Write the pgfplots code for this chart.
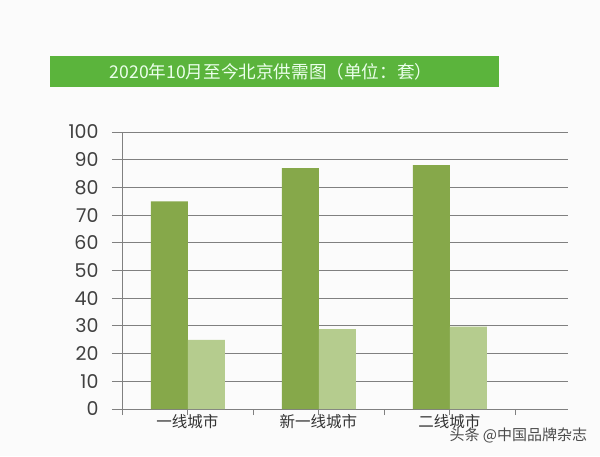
\documentclass[border=0pt]{standalone}
\usepackage{pgfplots}
\pgfplotsset{compat=1.18}
\usepackage{fontspec}
\setmainfont{Poppins}
\newfontfamily\cjk{Noto Sans CJK SC}
\definecolor{bardark}{HTML}{86A84A}
\definecolor{barlight}{HTML}{B5CC8E}
\definecolor{titlegreen}{HTML}{5BB43C}
\definecolor{gridgray}{HTML}{808080}
\begin{document}
\begin{tikzpicture}[x=1pt,y=1pt]
\fill[white!97!gray] (0,0) rectangle (600,456);
\useasboundingbox (0,0) rectangle (600,456);
\fill[titlegreen] (50,369) rectangle (499,400);
\node[text=white!92!green, font=\cjk\fontsize{17.6}{20}\selectfont] at (271,384.5) {2020年10月至今北京供需图（单位：套）};
\begin{axis}[
  at={(122pt,47pt)}, anchor=origin,
  scale only axis, width=446pt, height=277pt,
  xmin=0, xmax=3.405, ymin=0, ymax=100,
  axis x line=bottom, axis y line=left,
  axis line style={-, gridgray, line width=0.9pt},
  ymajorgrids, grid style={gridgray, line width=0.9pt},
  ytick={0,10,...,100},
  xtick={0,1,2,3}, xticklabels={},
  tick align=outside,
  major tick length=10pt,
  tick style={gridgray, line width=0.9pt},
  xtick style={/pgfplots/major tick length=6pt},
  yticklabel style={font=\fontsize{19}{22}\selectfont, text=black!75, xshift=-10pt},
  /pgf/number format/assume math mode=true,
  extra x ticks={0.5,1.5,2.5},
  extra x tick labels={一线城市,新一线城市,二线城市},
  extra x tick style={/pgfplots/major tick length=0pt, ticklabel style={font=\cjk\fontsize{15.5}{18}\selectfont, text=black!80, yshift=-2pt}, grid=none},
  clip=false,
]
\addplot[ybar, bar width=37pt, bar shift=-18pt, fill=bardark, draw=none] coordinates {(0.5,75) (1.5,87) (2.5,88)};
\addplot[ybar, bar width=37pt, bar shift=19pt, fill=barlight, draw=none] coordinates {(0.5,25) (1.5,28.8) (2.5,29.7)};
\end{axis}
\node[anchor=west, text=black!70, font=\cjk\fontsize{15}{18}\selectfont] at (446,21) {头条 @中国品牌杂志};
\end{tikzpicture}
\end{document}
